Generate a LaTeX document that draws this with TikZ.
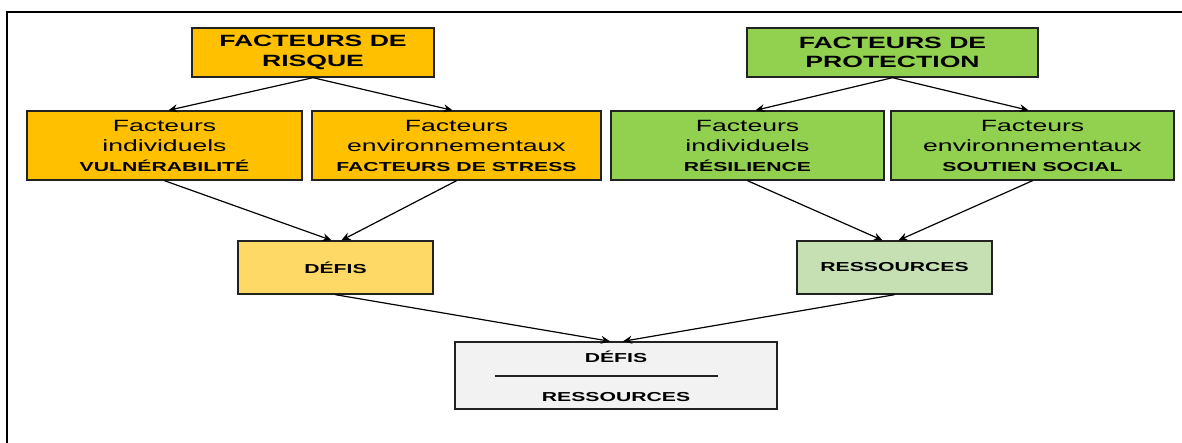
\documentclass[tikz,border=0pt]{standalone}
\usepackage{fontspec}
\setmainfont{Liberation Sans}[FakeStretch=1.63]
\usetikzlibrary{arrows.meta}
\definecolor{riskc}{HTML}{FFC000}
\definecolor{protc}{HTML}{92D050}
\definecolor{defic}{HTML}{FFD966}
\definecolor{ressc}{HTML}{C6E0B4}
\definecolor{finc}{HTML}{F2F2F2}
\definecolor{edgec}{HTML}{222222}
\begin{document}
\begin{tikzpicture}[x=1pt,y=-1pt,
  box/.style={draw=edgec, line width=1.4pt, inner sep=0pt, align=center},
  titlefont/.style={font=\fontsize{16.3}{19.5}\selectfont\bfseries},
  midfont/.style={font=\fontsize{16.3}{20}\selectfont},
  smallbold/.style={font=\fontsize{13}{16}\selectfont\bfseries},
  arr/.style={draw=black, line width=1.2pt, -{Stealth[length=9pt,width=8pt,inset=3pt]}},
  frameline/.style={draw=black, line width=2pt}]
\useasboundingbox (0,0) rectangle (1182,443);
\draw[frameline] (7,443) -- (7,12) -- (1182,12);

\node[box, titlefont, fill=riskc, minimum width=242pt, minimum height=49pt] (risk) at (313,52.5) {FACTEURS DE\\RISQUE};
\node[box, titlefont, fill=protc, minimum width=291pt, minimum height=49pt] (prot) at (892.5,52.5) {FACTEURS DE\\PROTECTION};

\node[box, midfont, fill=riskc, minimum width=275pt, minimum height=69pt] (ri) at (164.5,145.5) {Facteurs\\individuels\\{\fontsize{13}{20}\selectfont\bfseries VULNÉRABILITÉ}};
\node[box, midfont, fill=riskc, minimum width=289pt, minimum height=69pt] (re) at (456.5,145.5) {Facteurs\\environnementaux\\{\fontsize{13}{20}\selectfont\bfseries FACTEURS DE STRESS}};
\node[box, midfont, fill=protc, minimum width=273pt, minimum height=69pt] (pi) at (747.5,145.5) {Facteurs\\individuels\\{\fontsize{13}{20}\selectfont\bfseries RÉSILIENCE}};
\node[box, midfont, fill=protc, minimum width=283pt, minimum height=69pt] (pe) at (1032.5,145.5) {Facteurs\\environnementaux\\{\fontsize{13}{20}\selectfont\bfseries SOUTIEN SOCIAL}};

\node[box, smallbold, fill=defic, minimum width=195pt, minimum height=53pt] (def) at (335.5,267.5) {DÉFIS};
\node[box, smallbold, fill=ressc, minimum width=195pt, minimum height=53pt] (res) at (894.5,267.5) {RESSOURCES};

\node[box, fill=finc, minimum width=322pt, minimum height=67pt] (fin) at (616,375.5) {};
\node[smallbold] (fintop) at (616,357) {DÉFIS};
\node[smallbold] (finbot) at (616,397) {RESSOURCES};
\coordinate (la) at (495,376);
\coordinate (lb) at (718,376);
\draw[draw=edgec, line width=1.3pt] (la) -- (lb);

\draw[arr] (risk.south) -- ([xshift=4pt]ri.north);
\draw[arr] (risk.south) -- ([xshift=-4pt]re.north);
\draw[arr] (prot.south) -- ([xshift=8pt]pi.north);
\draw[arr] (prot.south) -- ([xshift=-4pt]pe.north);

\draw[arr] (ri.south) -- ([xshift=-4pt]def.north);
\draw[arr] (re.south) -- ([xshift=6pt]def.north);
\draw[arr] (pi.south) -- ([xshift=-12pt]res.north);
\draw[arr] (pe.south) -- ([xshift=4pt]res.north);

\draw[arr] (def.south) -- ([xshift=-6pt]fin.north);
\draw[arr] (res.south) -- ([xshift=7pt]fin.north);
\end{tikzpicture}
\end{document}
